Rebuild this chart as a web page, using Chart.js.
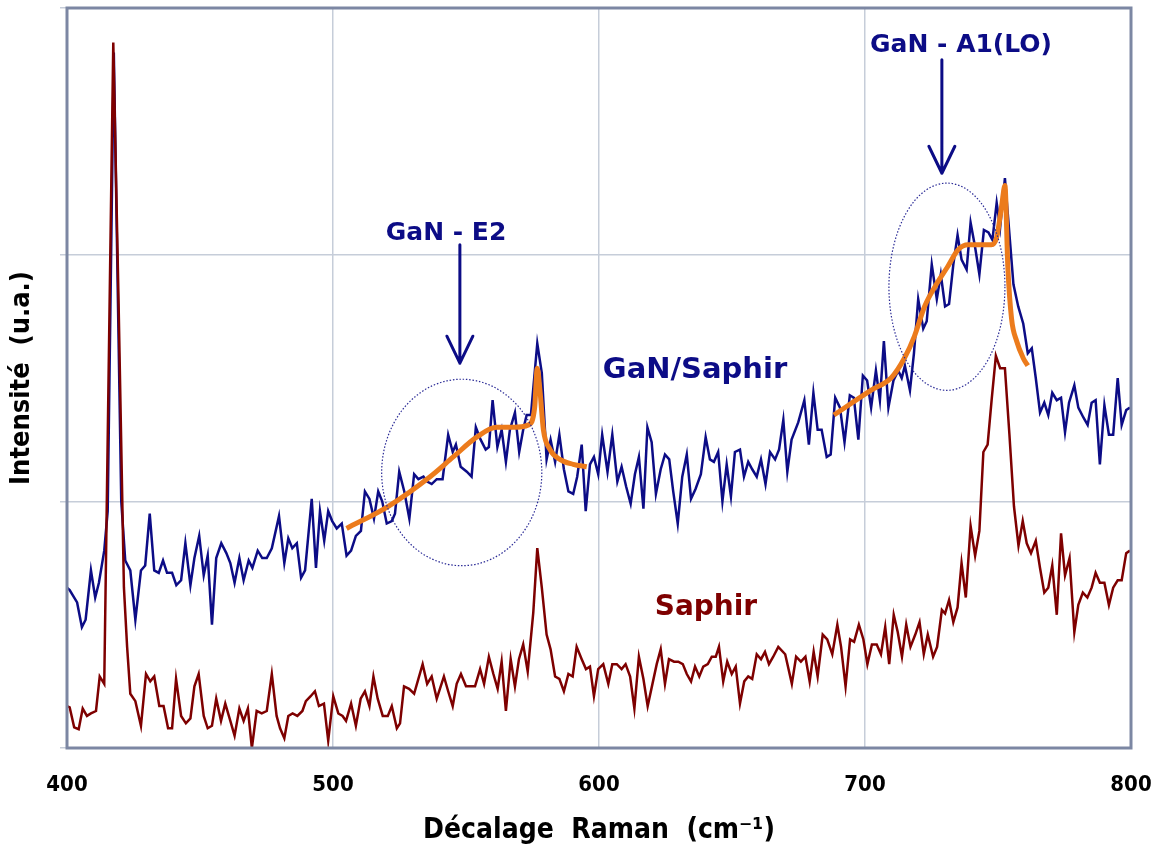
<!DOCTYPE html>
<html><head><meta charset="utf-8">
<script src="https://cdn.jsdelivr.net/npm/chart.js@4.4.1/dist/chart.umd.min.js"></script>
<style>html,body{margin:0;padding:0;background:#fff;}</style>
</head><body>
<canvas id="c" width="1156" height="853"></canvas>
<script>
// ---- Data (Raman shift in cm-1, intensity in arbitrary units) ----
const shiftGaN = [400,401,403.8,405.6,407,409,410.6,412,414,415.3,417.6,420.4,421.9,423.8,425.7,427.8,429.4,431.1,432.8,434.5,436.1,437.6,439.5,441.1,442.9,444.5,446.4,447.9,449.7,451.4,452.9,454.5,456.1,458,459.9,461.4,463,464.8,466.4,468.3,469.7,471.7,473.4,475.1,477,479.7,481.7,483.2,484.7,486.4,488,489.5,492,493.6,495.1,496.7,498.2,499.7,501.4,503.3,505.1,506.8,508.6,510.5,512,513.7,515.4,517,518.5,520.2,522.1,523.3,524.9,526.8,528.7,530.5,532.1,534,535.4,537.1,539,541.2,543.3,545,546.2,548,550.3,552.1,553.7,555.5,557.4,558.6,560,561.8,563.4,565,566.5,568.4,570,571.5,572.8,574.4,576.8,578.5,580.3,581.8,583.5,585.1,586.8,588.5,590.3,591.8,593.5,595,596.6,598.1,599.7,601.2,603.2,605,606.9,608.5,610.2,611.9,613.5,615,616.7,618.2,619.8,621.4,623.2,624.8,626.4,627.9,629.6,631.3,633,634.6,636.3,638.3,640.1,641.7,643.2,644.8,646.4,648,649.6,651.1,653,654.5,656.1,657.6,659.3,660.9,662.6,664.3,666.2,667.7,669.3,670.8,672.4,674.9,677.2,678.9,680.6,682.2,683.7,685.6,687.1,688.8,690.6,692.3,694.3,695.8,697.5,699.2,700.8,702.3,704.1,705.6,707.1,708.8,710.7,712.5,713.8,715,716.9,718.4,720,721.9,723.2,725.1,727,728.5,730.1,731.6,733.2,734.8,736.3,738.2,739.7,741.4,743,744.7,746.4,747.9,749.5,750.8,752.6,754.1,755.8,757.6,759.5,761.2,762.7,764.2,765.8,767.4,768.9,770.4,772.1,773.7,775.2,776.7,778.7,780.2,782.1,783.7,785.2,786.7,788.3,790,791.7,793.3,795,796.5,798.2,799.6];
const intensityGaN = [0.65,0.64,0.59,0.49,0.52,0.72,0.61,0.67,0.80,0.96,2.82,1.00,0.76,0.72,0.52,0.72,0.74,0.95,0.72,0.71,0.76,0.71,0.71,0.66,0.68,0.83,0.66,0.77,0.86,0.70,0.78,0.50,0.77,0.83,0.79,0.75,0.67,0.77,0.68,0.76,0.73,0.80,0.77,0.77,0.81,0.94,0.75,0.85,0.81,0.83,0.69,0.72,1.01,0.73,0.96,0.84,0.96,0.92,0.89,0.91,0.78,0.80,0.86,0.88,1.04,1.01,0.93,1.04,1.00,0.91,0.92,0.95,1.12,1.04,0.93,1.11,1.09,1.10,1.08,1.07,1.09,1.09,1.27,1.20,1.23,1.14,1.12,1.10,1.30,1.25,1.21,1.22,1.41,1.22,1.29,1.16,1.29,1.36,1.20,1.29,1.35,1.35,1.64,1.52,1.17,1.25,1.16,1.27,1.13,1.04,1.03,1.10,1.23,0.96,1.15,1.18,1.11,1.27,1.12,1.27,1.08,1.14,1.06,0.99,1.11,1.18,0.97,1.30,1.24,1.03,1.13,1.19,1.17,1.04,0.91,1.10,1.19,1.01,1.05,1.11,1.26,1.17,1.16,1.20,1.00,1.15,1.02,1.20,1.21,1.10,1.16,1.13,1.10,1.17,1.07,1.20,1.17,1.21,1.33,1.12,1.25,1.32,1.41,1.23,1.44,1.29,1.29,1.18,1.19,1.42,1.38,1.24,1.43,1.42,1.25,1.51,1.49,1.38,1.53,1.41,1.65,1.38,1.49,1.53,1.50,1.55,1.45,1.60,1.82,1.70,1.73,1.96,1.82,1.92,1.79,1.80,1.96,2.08,1.98,1.94,2.13,2.03,1.92,2.10,2.09,2.06,2.21,2.11,2.31,2.11,1.88,1.79,1.72,1.60,1.62,1.50,1.36,1.40,1.35,1.44,1.41,1.42,1.28,1.40,1.47,1.38,1.34,1.31,1.40,1.41,1.15,1.39,1.27,1.27,1.50,1.31,1.37,1.38];

const shiftSaphir = [400,401,402.7,404.4,405.9,407.5,409,410.9,412.3,414,417.4,419.4,421.4,422.6,423.8,425.7,427.8,429.7,431.3,432.8,434.7,436.3,438,439.5,441,442.9,444.7,446.4,447.9,449.5,451.4,452.9,454.5,456.1,457.9,459.5,461.4,463,464.8,466.4,468,469.5,471.3,473.2,475.1,477,478.8,480.1,481.7,483.2,484.8,486.6,488.5,489.8,491.6,493.2,494.7,496.6,498.2,500.1,502,503.6,504.9,506.8,508.6,510.4,512,513.7,515.2,516.8,518.7,520.6,522.1,524,525.2,526.7,528.6,530.5,532.1,533.7,535.4,537.1,539,541.7,543.3,545,546.5,548.1,550,551.9,553.4,555.3,556.8,558.6,560.3,561.9,563.4,565,566.8,568.4,569.9,571.5,573.2,575.3,576.8,578.5,580.3,581.8,583.5,585.1,586.8,588.5,590.1,591.6,593.5,595.1,596.6,598.1,599.7,601.6,603.5,605,606.7,608.5,610,611.7,613.3,615,616.7,618.3,620.1,621.7,623.2,624.8,626.3,628.2,629.8,631.5,633,634.6,636.1,637.7,639.2,640.9,642.4,643.9,645.1,646.7,648.2,649.9,651.4,653,654.6,656.1,657.6,659.3,660.9,662.4,663.9,665.5,667.4,670,672.5,674.1,675.9,677.6,679.2,680.7,682.2,684.1,685.8,687.7,689.6,691,692.7,694.4,695.9,697.7,699.4,700.9,702.6,704.4,706,707.6,709.1,710.8,712.3,713.9,715.5,717.1,718.9,720.5,722.1,723.6,725.6,727.1,728.9,730.1,731.6,733.2,734.8,736.3,737.9,739.7,741.4,743,744.5,746.1,747.6,749.2,750.8,752.6,754.3,756,757.7,759.3,760.8,762.4,764.2,765.8,767.4,768.9,770.4,772.1,773.7,775.2,776.9,778.7,780.2,781.9,783.6,785.2,786.7,788.3,790,791.7,793.3,795,796.5,798.2,799.6];
const intensitySaphir = [0.17,0.165,0.084,0.076,0.16,0.13,0.14,0.15,0.29,0.26,2.86,1.80,0.65,0.41,0.22,0.19,0.09,0.30,0.27,0.29,0.17,0.17,0.08,0.08,0.28,0.13,0.10,0.12,0.25,0.30,0.13,0.08,0.09,0.20,0.11,0.18,0.11,0.05,0.16,0.11,0.16,0.00,0.15,0.14,0.15,0.30,0.13,0.08,0.04,0.13,0.14,0.13,0.15,0.19,0.21,0.23,0.17,0.18,0.03,0.21,0.14,0.13,0.11,0.18,0.09,0.20,0.23,0.17,0.29,0.20,0.13,0.13,0.17,0.08,0.10,0.25,0.24,0.22,0.28,0.34,0.26,0.29,0.20,0.29,0.23,0.17,0.26,0.30,0.25,0.25,0.25,0.32,0.26,0.37,0.30,0.24,0.35,0.15,0.36,0.25,0.36,0.42,0.31,0.55,0.81,0.65,0.46,0.40,0.29,0.28,0.23,0.30,0.29,0.41,0.36,0.32,0.33,0.21,0.32,0.34,0.26,0.34,0.34,0.32,0.34,0.29,0.16,0.37,0.28,0.17,0.26,0.34,0.40,0.26,0.36,0.35,0.35,0.34,0.30,0.27,0.33,0.29,0.33,0.34,0.37,0.37,0.41,0.27,0.35,0.30,0.33,0.18,0.27,0.29,0.28,0.38,0.36,0.39,0.34,0.37,0.41,0.38,0.26,0.37,0.35,0.37,0.27,0.39,0.29,0.46,0.44,0.38,0.50,0.41,0.25,0.44,0.43,0.50,0.44,0.34,0.42,0.42,0.38,0.49,0.34,0.54,0.47,0.37,0.50,0.41,0.46,0.51,0.38,0.46,0.37,0.41,0.56,0.545,0.60,0.51,0.57,0.75,0.61,0.90,0.78,0.88,1.20,1.23,1.41,1.59,1.54,1.54,1.27,0.98,0.82,0.92,0.83,0.79,0.84,0.73,0.63,0.65,0.74,0.54,0.87,0.70,0.77,0.47,0.58,0.63,0.61,0.65,0.71,0.67,0.67,0.58,0.65,0.68,0.68,0.79,0.80];

// Fitted profiles (orange)
const fitE2Shift = [505.1,520.8,536.5,545.2,554,561.5,567.8,573.5,575.8,576.8,577.8,579.1,581.6,585.3,590.3,595.4];
const fitE2Intensity = [0.89,0.98,1.10,1.18,1.26,1.30,1.30,1.31,1.38,1.54,1.45,1.29,1.21,1.17,1.15,1.14];
const fitA1Shift = [688.3,702.2,709.8,714.8,718.6,722.4,727.4,731,735,738.8,742.5,747.5,749.5,751.4,752.6,753.7,755.1,757,759.5,761.2];
const fitA1Intensity = [1.35,1.45,1.50,1.58,1.67,1.79,1.89,1.95,2.02,2.04,2.04,2.04,2.07,2.20,2.28,1.95,1.74,1.65,1.58,1.55];

// Annotations (data coordinates)
const labelTexts = ['GaN - E2', 'GaN - A1(LO)', 'GaN/Saphir', 'Saphir'];
const labelX = [542.5, 736.1, 636.1, 640.2];
const labelY = [2.061, 2.822, 1.502, 0.538];
const arrowX = [547.7, 728.9];
const arrowFrom = [2.04, 2.79];
const arrowTo = [1.56, 2.33];
const ellipseCX = [548.4, 730.8];
const ellipseCY = [1.117, 1.87];
const ellipseRX = [30.1, 21.8];
const ellipseRY = [0.378, 0.42];

const NAVY = '#0c0c86';
const MAROON = '#7e0000';
const ORANGE = '#ec7b1c';

const toPts = (xs, ys) => xs.map((x, i) => ({x, y: ys[i]}));

const annotate = {
  id: 'annotate',
  afterDatasetsDraw(chart) {
    const {ctx, chartArea: a, scales: {x, y}} = chart;
    ctx.save();
    // frame
    ctx.strokeStyle = '#7c87a3';
    ctx.lineWidth = 3;
    ctx.strokeRect(a.left, a.top, a.right - a.left, a.bottom - a.top);
    // ellipses
    ctx.strokeStyle = '#2a2a96';
    ctx.lineWidth = 1.2;
    ctx.setLineDash([1.5, 1.8]);
    for (let i = 0; i < ellipseCX.length; i++) {
      const cx = x.getPixelForValue(ellipseCX[i]);
      const cy = y.getPixelForValue(ellipseCY[i]);
      const rx = x.getPixelForValue(ellipseCX[i] + ellipseRX[i]) - cx;
      const ry = cy - y.getPixelForValue(ellipseCY[i] + ellipseRY[i]);
      ctx.beginPath();
      ctx.ellipse(cx, cy, rx, ry, 0, 0, Math.PI * 2);
      ctx.stroke();
    }
    ctx.setLineDash([]);
    // arrows
    ctx.strokeStyle = NAVY;
    ctx.lineWidth = 3;
    ctx.lineCap = 'round';
    ctx.lineJoin = 'round';
    for (let i = 0; i < arrowX.length; i++) {
      const px = x.getPixelForValue(arrowX[i]);
      const y0 = y.getPixelForValue(arrowFrom[i]);
      const y1 = y.getPixelForValue(arrowTo[i]);
      ctx.beginPath();
      ctx.moveTo(px, y0); ctx.lineTo(px, y1);
      ctx.moveTo(px - 13, y1 - 27); ctx.lineTo(px, y1); ctx.lineTo(px + 13, y1 - 27);
      ctx.stroke();
    }
    // labels
    const sizes = [25, 25, 29, 28];
    const colors = [NAVY, NAVY, NAVY, MAROON];
    ctx.textAlign = 'center';
    ctx.textBaseline = 'alphabetic';
    for (let i = 0; i < labelTexts.length; i++) {
      ctx.font = 'bold ' + sizes[i] + 'px "DejaVu Sans"';
      ctx.fillStyle = colors[i];
      ctx.fillText(labelTexts[i], x.getPixelForValue(labelX[i]), y.getPixelForValue(labelY[i]));
    }
    ctx.restore();
  }
};

const axisFont = {family: '"DejaVu Sans Condensed", "DejaVu Sans"', weight: 'bold'};

new Chart(document.getElementById('c'), {
  type: 'line',
  data: {
    datasets: [
      {label: 'Ajustement E2', data: toPts(fitE2Shift, fitE2Intensity), borderColor: ORANGE, borderWidth: 5, cubicInterpolationMode: 'monotone', pointRadius: 0, fill: false},
      {label: 'Ajustement A1(LO)', data: toPts(fitA1Shift, fitA1Intensity), borderColor: ORANGE, borderWidth: 5, cubicInterpolationMode: 'monotone', pointRadius: 0, fill: false},
      {label: 'Saphir', data: toPts(shiftSaphir, intensitySaphir), borderColor: MAROON, borderWidth: 2.5, tension: 0, pointRadius: 0, fill: false},
      {label: 'GaN/Saphir', data: toPts(shiftGaN, intensityGaN), borderColor: NAVY, borderWidth: 2.5, tension: 0, pointRadius: 0, fill: false}
    ]
  },
  options: {
    responsive: false,
    animation: false,
    devicePixelRatio: 1,
    layout: {padding: {top: 8, right: 25, left: 0, bottom: 0}},
    plugins: {legend: {display: false}, tooltip: {enabled: false}},
    scales: {
      x: {
        type: 'linear', min: 400, max: 800,
        ticks: {stepSize: 100, padding: 24, color: '#000', font: {...axisFont, size: 22}, maxRotation: 0},
        grid: {color: '#c6cdd9', lineWidth: 1.5, drawTicks: false},
        border: {display: false},
        title: {display: true, text: 'Décalage  Raman  (cm⁻¹)', color: '#000', font: {...axisFont, size: 28}, padding: {top: 0, bottom: 5}},
        afterFit(s) { s.height = 105; s.paddingLeft = 0; s.paddingRight = 0; }
      },
      y: {
        type: 'linear', min: 0, max: 3,
        ticks: {stepSize: 1, display: false},
        grid: {color: '#c6cdd9', lineWidth: 1.5, drawTicks: true, tickLength: 7},
        border: {display: false},
        title: {display: true, text: 'Intensité  (u.a.)', color: '#000', font: {...axisFont, size: 27}, padding: {top: 6, bottom: 0}},
        afterFit(s) { s.width = 67; s.paddingTop = 0; s.paddingBottom = 0; }
      }
    }
  },
  plugins: [annotate]
});
</script>
</body></html>
